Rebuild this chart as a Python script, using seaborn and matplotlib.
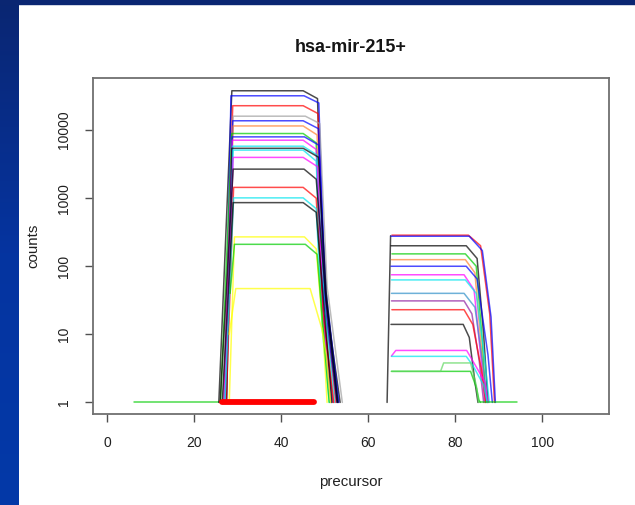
import numpy as np
import pandas as pd
import matplotlib
matplotlib.use("Agg")
import matplotlib.pyplot as plt
import seaborn as sns
from matplotlib.patches import Rectangle
from matplotlib.colors import LinearSegmentedColormap
from matplotlib.ticker import NullLocator

# ---------------- data ----------------
title = "hsa-mir-215+"
x_label = "precursor"
y_label = "counts"
x_ticks = [0, 20, 40, 60, 80, 100]
y_ticks = [1, 10, 100, 1000, 10000]
y_tick_labels = ["1", "10", "100", "1000", "10000"]

COL = {"black": "#000000", "red": "#FF0000", "green3": "#00CD00", "blue": "#0000FF",
       "cyan": "#00E5EE", "magenta": "#FF00FF", "yellow": "#FFFF00", "gray": "#A0A0A0",
       "orange": "#FF8030", "steel": "#3090C8", "purple": "#9020A0", "lgreen": "#60D860"}

# first peak (5' arm) - one entry per read profile
b1_colors = ["black", "blue", "red", "gray", "blue", "orange", "green3", "blue", "magenta", "cyan",
             "black", "cyan", "magenta", "black", "red", "cyan", "black", "yellow", "green3", "yellow"]
b1_level = [37800, 31900, 22800, 16000, 13700, 11500, 8900, 7950, 7100, 5800,
            5400, 5080, 3970, 2670, 1440, 1010, 860, 270, 210, 47]
b1_x_base = [25.6, 27.0, 26.8, 26.5, 27.2, 27.0, 26.0, 27.3, 26.8, 27.1,
             27.4, 27.0, 26.9, 25.9, 27.3, 27.0, 26.4, 28.0, 28.2, 28.0]
b1_base = [1, 1, 1, 1, 1, 1, 1, 1, 1, 1, 1, 1, 1, 1, 1, 1, 1, 1, 40, 10]
b1_x_top = [28.6, 28.4, 28.8, 28.9, 28.8, 28.9, 28.6, 28.7, 28.7, 28.8,
            28.6, 28.9, 28.9, 28.9, 29.0, 29.0, 28.9, 29.2, 29.2, 29.5]
b1_x_pend = [45.0, 45.2, 45.0, 45.5, 45.0, 45.0, 45.0, 45.3, 45.0, 45.0,
             45.0, 45.0, 45.0, 45.2, 45.0, 45.0, 45.0, 45.3, 45.5, 46.6]
b1_x_sh = [48.3, 48.6, 48.4, 48.8, 48.5, 48.2, 48.0, 48.6, 48.0, 48.2,
           48.5, 48.0, 48.3, 48.0, 48.0, 48.0, 48.0, 48.0, 48.2, 49.3]
b1_sh = [29000, 25000, 17500, 12500, 10500, 8500, 6500, 6000, 5200, 4300,
         4000, 3500, 2900, 1900, 1000, 700, 620, 180, 150, 12]
b1_x_drop = [49.6, 50.0, 49.8, 50.5, 49.9, 49.5, 49.3, 50.2, 49.5, 49.8,
             50.3, 49.4, 49.6, 50.2, 49.6, 49.4, 49.8, 49.6, 49.7, 50.3]
b1_drop = [60, 40, 35, 50, 30, 25, 20, 45, 25, 30, 40, 15, 20, 35, 20, 12, 25, 10, 10, 5]
b1_x_end = [53.5, 53.0, 52.5, 54.0, 52.8, 52.0, 51.5, 53.2, 51.8, 52.2,
            53.0, 51.5, 51.3, 52.8, 52.0, 51.0, 51.6, 50.5, 51.0, 51.3]

# second peak (3' arm)
b2_colors = ["red", "blue", "black", "green3", "orange", "blue", "magenta", "cyan", "steel",
             "purple", "red", "black", "magenta", "cyan", "green3"]
b2_level = [286, 276, 200, 152, 125, 100, 75, 63, 40, 31, 23, 14, 5.8, 4.75, 2.86]
b2_x_start = [65.4, 65.2, 65.2, 65.4, 65.3, 65.2, 65.3, 65.3, 65.3, 65.3, 65.4, 65.2, 65.3, 65.3, 65.3]
b2_start = [286, 276, 200, 152, 125, 100, 75, 63, 40, 31, 23, 14, 4.8, 4.75, 2.86]
b2_x_top = [65.9, 65.8, 65.7, 65.9, 65.8, 65.7, 65.8, 65.8, 65.8, 65.8, 65.9, 65.7, 66.3, 65.8, 65.8]
b2_x_pend = [83.0, 83.2, 82.5, 82.3, 82.3, 82.5, 82.0, 82.3, 82.0, 82.0, 82.0, 81.8, 82.6, 82.5, 83.5]
b2_x_sh = [85.8, 86.2, 85.0, 84.8, 84.5, 85.0, 84.3, 84.8, 84.5, 83.8, 84.0, 83.2, 83.7, 84.0, 84.9]
b2_sh = [200, 170, 130, 100, 80, 65, 45, 40, 25, 20, 14, 9, 4.4, 3.5, 1.6]
b2_x_drop = [87.9, 88.2, 86.5, 86.2, 86.0, 87.5, 85.8, 86.8, 86.5, 85.5, 86.0, 84.5, 86.8, 86.5, 85.4]
b2_drop = [20, 18, 10, 8, 6, 5, 5, 4, 3, 4, 3, 2, 2, 1.8, 1.1]
b2_x_end = [89.0, 89.2, 87.5, 87.0, 86.8, 88.5, 86.8, 87.8, 87.3, 86.5, 87.0, 85.2, 87.5, 87.3, 85.7]

# extra single profiles
green_left_x, green_left_y = [6.2, 26.0], [1, 1]
green_tail_x, green_tail_y = [85.7, 94.2], [1, 1]
green_step_x = [65.3, 76.6, 77.3, 83.5, 84.8, 85.3]
green_step_y = [2.86, 2.86, 3.8, 3.8, 1.8, 1]
gray_edge_x, gray_edge_y = [64.3, 65.1], [1, 280]
red_base_x, red_base_y = [26.4, 47.6], [1, 1]

# ---------------- build long table ----------------
rows = []
palette = {}

def add_series(name, xs, ys, color):
    palette[name] = COL[color]
    for xv, yv in zip(xs, ys):
        rows.append({"sid": name, "x": xv, "y": yv})

add_series("gl", green_left_x, green_left_y, "green3")
for i in range(len(b1_level)):
    xs = [b1_x_base[i], b1_x_top[i], b1_x_pend[i], b1_x_sh[i], b1_x_drop[i], b1_x_end[i]]
    ys = [b1_base[i], b1_level[i], b1_level[i], b1_sh[i], b1_drop[i], 1]
    add_series(f"a{i}", xs, ys, b1_colors[i])
add_series("ge", gray_edge_x, gray_edge_y, "black")
for i in range(len(b2_level)):
    xs = [b2_x_start[i], b2_x_top[i], b2_x_pend[i], b2_x_sh[i], b2_x_drop[i], b2_x_end[i]]
    ys = [b2_start[i], b2_level[i], b2_level[i], b2_sh[i], b2_drop[i], 1]
    add_series(f"b{i}", xs, ys, b2_colors[i])
add_series("gs", green_step_x, green_step_y, "lgreen")
add_series("gt", green_tail_x, green_tail_y, "green3")

df = pd.DataFrame(rows)
red_df = pd.DataFrame({"x": red_base_x, "y": red_base_y})

# ---------------- figure ----------------
sns.set_theme(style="ticks")
plt.rcParams["font.family"] = ["Liberation Sans", "DejaVu Sans"]

W, H = 635, 505
fig = plt.figure(figsize=(W / 100, H / 100), dpi=100)
fig.patch.set_facecolor("white")

# slide background strips
gax = fig.add_axes([0, 0, 19 / W, 1])
grad = np.linspace(0, 1, 256).reshape(-1, 1)
cmap = LinearSegmentedColormap.from_list("slide", ["#0A2672", "#0534A0", "#0339A8"])
gax.imshow(grad, aspect="auto", cmap=cmap, extent=[0, 1, 0, 1], origin="upper")
gax.axis("off")
fig.add_artist(Rectangle((0, 1 - 3.5 / H), 1, 3.5 / H, transform=fig.transFigure,
                         color="#0A2672", zorder=5))

left, right, top, bottom = 92.7, 609.3, 78.0, 414.0
ax = fig.add_axes([left / W, 1 - bottom / H, (right - left) / W, (bottom - top) / H])

sns.lineplot(data=df, x="x", y="y", hue="sid", palette=palette, hue_order=list(palette.keys()),
             estimator=None, sort=False, legend=False, linewidth=1.1, alpha=0.7, ax=ax)
sns.lineplot(data=red_df, x="x", y="y", color="#FF0000", linewidth=4.2, estimator=None,
             sort=False, ax=ax)

ax.set_yscale("log")
ax.set_xlim(-3.4, 115.4)
ax.set_ylim(10 ** -0.17, 10 ** 4.765)
ax.set_xticks(x_ticks)
ax.set_xticklabels([str(t) for t in x_ticks])
ax.set_yticks(y_ticks)
ax.set_yticklabels(y_tick_labels, rotation=90, va="center")
ax.yaxis.set_minor_locator(NullLocator())

for sp in ax.spines.values():
    sp.set_visible(True)
    sp.set_color("#707070")
    sp.set_linewidth(1.3)
ax.tick_params(axis="both", direction="out", length=5.5, width=1.0, color="#505050",
               labelsize=10, labelcolor="#202020")
ax.tick_params(axis="x", pad=10.5)
ax.tick_params(axis="y", pad=10)

ax.set_xlabel(x_label, fontsize=10.8, color="#202020")
ax.set_ylabel(y_label, fontsize=10.8, color="#202020")
ax.xaxis.label.set_va("center")
ax.yaxis.label.set_va("center")
ax.xaxis.set_label_coords(0.5, (bottom - 482) / (bottom - top))
ax.yaxis.set_label_coords((33 - left) / (right - left), 0.5)

fig.text((left + right) / 2 / W, 1 - 47 / H, title, ha="center", va="center",
         fontsize=13, fontweight="bold", color="#151515")

fig.savefig("out.png", dpi=100, facecolor="white")
